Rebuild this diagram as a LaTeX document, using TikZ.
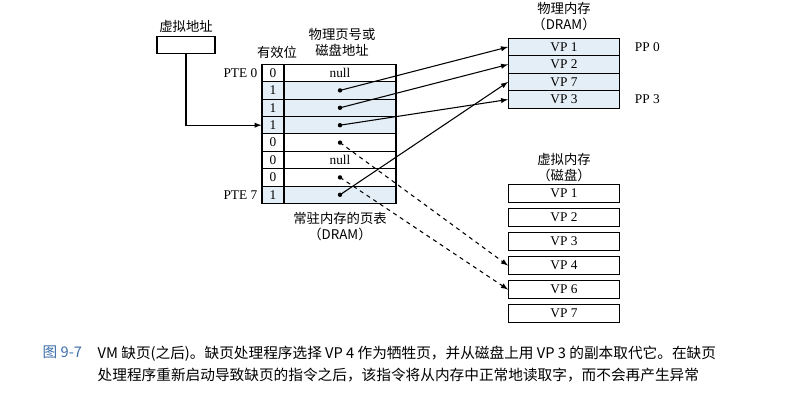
\documentclass[tikz,border=0pt]{standalone}
\usepackage{fontspec}
\setmainfont{Liberation Serif}
\newfontfamily\cjk{Noto Sans CJK SC}
\definecolor{cellblue}{RGB}{228,238,246}
\definecolor{capblue}{RGB}{60,110,170}
\usetikzlibrary{positioning}
\tikzset{
  cell/.style={draw, thick, minimum height=17.4*0.75pt, inner sep=0pt, font=\normalsize},
  memcell/.style={draw, thick, minimum width=111*0.75pt, minimum height=17.5*0.75pt, inner sep=0pt, font=\normalsize},
  lab/.style={font=\normalsize, inner sep=1pt},
  cjklab/.style={font=\cjk\normalsize, inner sep=0pt},
  ptr/.style={-latex, thick},
  swap/.style={-latex, thick, dashed},
}
\begin{document}
\begin{tikzpicture}[x=0.75pt,y=-0.75pt]
  \useasboundingbox (0,0) rectangle (798,406);

  % virtual address
  \node [cjklab] (valabel) at (186,26) {虚拟地址};
  \node [draw, thick, minimum width=58*0.75pt, minimum height=17*0.75pt] (va) at (186,45) {};

  % page table
  \foreach \v/\p/\f [count=\i from 0] in {0/null/white, 1//cellblue, 1//cellblue, 1//cellblue, 0//white, 0/null/white, 0//white, 1//cellblue} {
    \node [cell, minimum width=22*0.75pt, fill=\f] (v\i) at (273,73+\i*17.4) {\v};
    \node [cell, minimum width=112*0.75pt, fill=\f] (p\i) at (340,73+\i*17.4) {\p};
  }
  \foreach \i in {1,2,3,4,6,7} \fill (p\i.center) circle (2.2*0.75pt) coordinate (d\i);
  \node [lab, left=2pt of v0] {PTE 0};
  \node [lab, left=2pt of v7] {PTE 7};
  \node [cjklab] (validlabel) at (277,52) {有效位};
  \node [cjklab, align=center] (pplabel) at (342,42) {物理页号或\\磁盘地址};
  \node [cjklab, align=center, below=6pt of p7] (ptlabel) {常驻内存的页表\\（DRAM）};

  % physical memory
  \node [cjklab, align=center] (pmlabel) at (564,17) {物理内存\\（DRAM）};
  \foreach \n [count=\i] in {1,2,7,3}
    \node [memcell, fill=cellblue] (pm\i) at (564,29.5+\i*17.5) {VP \n};
  \node [lab, right=10pt of pm1] {PP 0};
  \node [lab, right=10pt of pm4] {PP 3};

  % disk
  \node [cjklab, align=center] (dklabel) at (564,168) {虚拟内存\\（磁盘）};
  \foreach \n [count=\i] in {1,2,3,4,6,7}
    \node [memcell] (dk\i) at (564,169.5+\i*24) {VP \n};

  % connectors
  \draw [ptr] (va.south) |- (v3.west);
  \draw [ptr] (d1) -- (pm1.west);
  \draw [ptr] (d2) -- (pm2.west);
  \draw [ptr] (d3) -- (pm4.west);
  \draw [ptr] (d7) -- (pm3.west);
  \draw [swap] (d4) -- (dk4.west);
  \draw [swap] (d6) -- (dk5.west);

  % caption
  \node [font=\cjk\fontsize{11}{14}\selectfont, text=capblue, anchor=west] (capnum) at (38,352) {图 9-7};
  \node [font=\cjk\fontsize{11}{14}\selectfont, anchor=north west, align=left] (captext) at (93,341)
    {VM 缺页(之后)。缺页处理程序选择 VP 4 作为牺牲页，并从磁盘上用 VP 3 的副本取代它。在缺页\\[3pt]处理程序重新启动导致缺页的指令之后，该指令将从内存中正常地读取字，而不会再产生异常};
\end{tikzpicture}
\end{document}
